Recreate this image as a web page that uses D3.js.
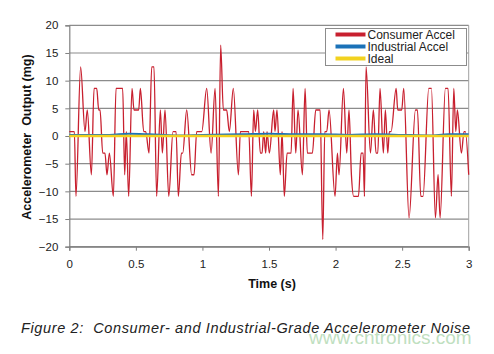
<!DOCTYPE html>
<html>
<head>
<meta charset="utf-8">
<script src="https://cdn.jsdelivr.net/npm/d3@7"></script>
<style>
  body { margin: 0; background: #fff; }
  svg { display: block; font-family: "Liberation Sans", Arial, sans-serif; }
</style>
</head>
<body>
<svg width="494" height="354"></svg>
<script>
// consumer accel vertices (time in s, output in mg)
const consumerTime = [
  0.000, 0.038, 0.050, 0.085, 0.118, 0.135, 0.166, 0.186, 0.206, 0.221, 0.231, 0.251, 0.268, 0.283, 0.301, 0.331,
  0.351, 0.401, 0.416, 0.428, 0.446, 0.471, 0.486, 0.521, 0.534, 0.559, 0.574, 0.599, 0.619, 0.636, 0.656, 0.684,
  0.699, 0.719, 0.747, 0.779, 0.802, 0.819, 0.842, 0.852, 0.882, 0.919, 0.937, 0.957, 0.995, 1.032, 1.065, 1.095,
  1.120, 1.137, 1.157, 1.182, 1.202, 1.232, 1.270, 1.285, 1.348, 1.368, 1.385, 1.398, 1.415, 1.435, 1.448, 1.460,
  1.475, 1.485, 1.503, 1.535, 1.545, 1.560, 1.585, 1.598, 1.615, 1.636, 1.666, 1.681, 1.701, 1.718, 1.751, 1.771,
  1.788, 1.826, 1.851, 1.884, 1.904, 1.919, 1.934, 1.951, 1.996, 2.014, 2.026, 2.059, 2.084, 2.101, 2.119, 2.136,
  2.172, 2.192, 2.207, 2.217, 2.229, 2.262, 2.284, 2.304, 2.317, 2.334, 2.359, 2.374, 2.392, 2.404, 2.417, 2.455,
  2.467, 2.497, 2.512, 2.552, 2.600, 2.615, 2.640, 2.657, 2.700, 2.720, 2.750, 2.770, 2.785, 2.825, 2.845, 2.870,
  2.888, 2.903, 2.915, 2.945, 2.965, 2.975, 3.000
];
const consumerValue = [
  0.8, 0.8, -10.9, 12.5, 0.8, 4.7, -7.0, 8.6, 8.6, 4.7, 4.7, -3.1, -3.1, -7.0, -3.1, -10.9,
  8.6, 8.6, -7.0, 0.8, -10.9, 8.6, 4.7, 4.7, 8.6, 0.8, 0.8, -3.1, 12.5, 12.5, -10.9, 4.7,
  -3.1, 4.7, -10.9, 0.8, 0.8, -10.9, -3.1, -3.1, 4.7, -7.0, -7.0, 0.8, 0.8, 8.6, -3.1, 8.6,
  -10.9, 16.4, 4.7, 4.7, 0.8, 8.6, -7.0, 0.8, 0.8, -10.9, 4.7, 0.8, 4.7, -3.1, -3.1, 0.8,
  -3.1, 0.8, -3.1, 4.7, 0.8, 4.7, -7.0, 0.8, -10.9, -3.1, -3.1, 8.6, -3.1, 4.7, -7.0, 8.6,
  -3.1, -3.1, 4.7, 4.7, -18.7, 0.8, 0.8, 4.7, -10.9, -3.1, -7.0, 8.6, -3.1, 4.7, -7.0, -10.9,
  -10.9, -3.1, -3.1, -10.9, 12.5, -3.1, 4.7, -3.1, -3.1, 8.6, -3.1, 4.7, -3.1, 0.8, 0.8, 8.6,
  4.7, 4.7, 8.6, -14.8, 4.7, 4.7, -10.9, -10.9, 8.6, 8.6, -14.8, -7.0, -14.8, 8.6, 8.6, -10.9,
  8.6, 0.8, 4.7, -3.1, 0.8, 0.8, -7.0
];

// industrial accel: stays just above zero
const industrialTime = [0, 0.3, 0.45, 0.6, 0.8, 1.0, 1.3, 1.5, 1.7, 1.9, 2.1, 2.3, 2.5, 2.7, 2.85, 3.0];
const industrialValue = [0.2, 0.2, 0.4, 0.3, 0.1, 0.2, 0.3, 0.4, 0.3, 0.3, 0.2, 0.3, 0.2, 0.1, 0.3, 0.3];

// ideal: flat zero
const idealTime = [0, 3];
const idealValue = [0, 0];

const yTicks = [20, 15, 10, 5, 0, -5, -10, -15, -20];
const xTicks = [0, 0.5, 1, 1.5, 2, 2.5, 3];

const seriesNames = ['Consumer Accel', 'Industrial Accel', 'Ideal'];
const seriesColors = ['#c8202f', '#1b72b8', '#f2d21f'];

const svg = d3.select('svg');
const margin = { left: 69.3, right: 25.3, top: 25.3, bottom: 107.3 };
const width = 494 - margin.left - margin.right;
const height = 354 - margin.top - margin.bottom;

const x = d3.scaleLinear().domain([0, 3]).range([0, width]);
const y = d3.scaleLinear().domain([-20, 20]).range([height, 0]);

const g = svg.append('g')
  .attr('transform', 'translate(' + margin.left + ',' + margin.top + ')');

// gridlines
g.append('g')
  .selectAll('line')
  .data(yTicks)
  .enter()
  .append('line')
  .attr('x1', 0)
  .attr('x2', width)
  .attr('y1', d => y(d))
  .attr('y2', d => y(d))
  .attr('stroke', '#8c8c8c')
  .attr('stroke-width', 1.2);

// right border
g.append('line')
  .attr('x1', width).attr('x2', width)
  .attr('y1', 0).attr('y2', height)
  .attr('stroke', '#a0a0a0');

// axes
const yAxis = g.append('g')
  .call(d3.axisLeft(y).tickValues(yTicks).tickSize(4).tickPadding(7).tickFormat(d3.format('d')));
const xAxis = g.append('g')
  .attr('transform', 'translate(0,' + height + ')')
  .call(d3.axisBottom(x).tickValues(xTicks).tickSize(4).tickPadding(9).tickFormat(d => d));

[yAxis, xAxis].forEach(a => {
  a.select('.domain').attr('stroke', '#808080').attr('stroke-width', 1.2);
  a.selectAll('.tick line').attr('stroke', '#808080');
  a.selectAll('.tick text')
    .attr('fill', '#222')
    .style('font-size', '11.5px')
    .style('font-family', '"Liberation Sans", Arial, sans-serif');
});

// lines
const line = d3.line()
  .x(d => x(d.t))
  .y(d => y(d.v))
  .curve(d3.curveMonotoneX);

const zip = (ts, vs) => ts.map((t, i) => ({ t: t, v: vs[i] }));

g.append('path')
  .datum(zip(consumerTime, consumerValue))
  .attr('d', line)
  .attr('fill', 'none')
  .attr('stroke', seriesColors[0])
  .attr('stroke-width', 1.3);

g.append('path')
  .datum(zip(industrialTime, industrialValue))
  .attr('d', line)
  .attr('fill', 'none')
  .attr('stroke', seriesColors[1])
  .attr('stroke-width', 2);

g.append('path')
  .datum(zip(idealTime, idealValue))
  .attr('d', line)
  .attr('fill', 'none')
  .attr('stroke', seriesColors[2])
  .attr('stroke-width', 2.5);

// legend
const legend = svg.append('g').attr('transform', 'translate(325.5,28.5)');
legend.append('rect')
  .attr('width', 141)
  .attr('height', 37)
  .attr('fill', '#fff')
  .attr('stroke', '#8c8c8c');

const rows = legend.selectAll('.row')
  .data(seriesNames)
  .enter()
  .append('g')
  .attr('class', 'row')
  .attr('transform', (d, i) => 'translate(0,' + (6 + i * 12) + ')');

rows.append('line')
  .attr('x1', 10)
  .attr('x2', 40)
  .attr('stroke', (d, i) => seriesColors[i])
  .attr('stroke-width', 4);

rows.append('text')
  .attr('x', 42)
  .attr('y', 4.5)
  .attr('fill', '#222')
  .style('font-size', '12px')
  .text(d => d);

// axis titles
svg.append('text')
  .attr('x', 272)
  .attr('y', 288)
  .attr('text-anchor', 'middle')
  .attr('fill', '#111')
  .style('font-size', '12.5px')
  .style('font-weight', 'bold')
  .text('Time (s)');

svg.append('text')
  .attr('transform', 'translate(31,137) rotate(-90)')
  .attr('text-anchor', 'middle')
  .attr('fill', '#111')
  .style('font-size', '12.5px')
  .style('font-weight', 'bold')
  .style('white-space', 'pre')
  .text('Accelerometer  Output (mg)');

// caption and watermark
svg.append('text')
  .attr('x', 21)
  .attr('y', 333)
  .attr('fill', '#222')
  .attr('textLength', 449)
  .attr('lengthAdjust', 'spacing')
  .style('font-size', '14.5px')
  .style('font-style', 'italic')
  .style('white-space', 'pre')
  .text('Figure 2:  Consumer- and Industrial-Grade Accelerometer Noise');

svg.append('text')
  .attr('x', 309)
  .attr('y', 344)
  .attr('fill', '#bfe0bf')
  .style('font-size', '19px')
  .text('www.cntronics.com');
</script>
</body>
</html>
